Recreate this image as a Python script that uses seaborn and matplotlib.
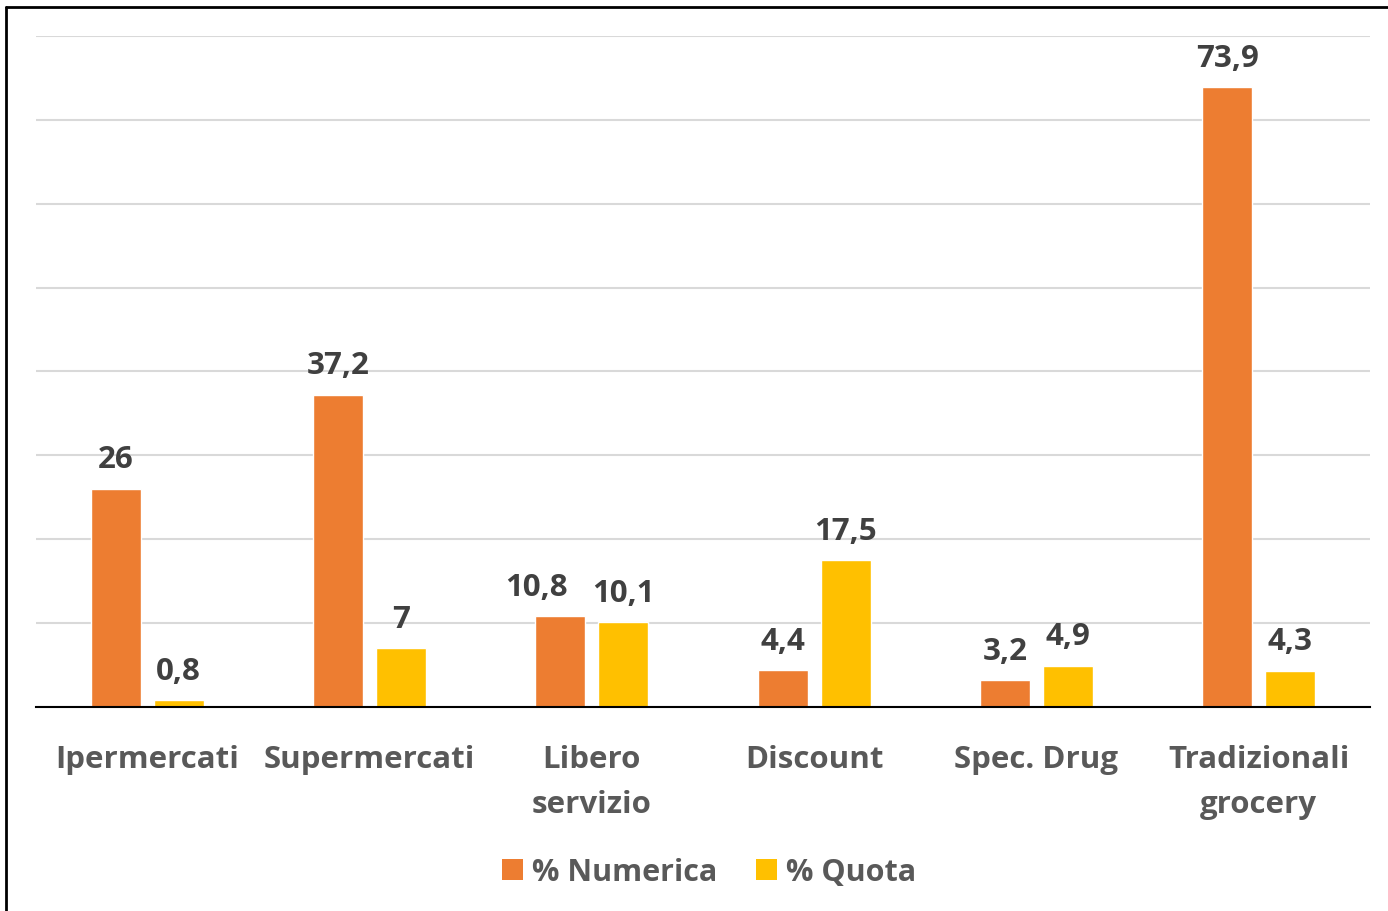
import matplotlib
matplotlib.use("Agg")
import matplotlib.pyplot as plt
import seaborn as sns
import pandas as pd
from matplotlib.lines import Line2D
from matplotlib.patches import Patch

categories = ["Ipermercati", "Supermercati", "Libero\nservizio", "Discount", "Spec. Drug", "Tradizionali\ngrocery"]
series_names = ["% Numerica", "% Quota"]
numerica = [26, 37.2, 10.8, 4.4, 3.2, 73.9]
quota = [0.8, 7, 10.1, 17.5, 4.9, 4.3]
colors = ["#ED7D31", "#FFC000"]

df = pd.DataFrame({
    "cat": categories * 2,
    "serie": [series_names[0]] * len(categories) + [series_names[1]] * len(categories),
    "val": numerica + quota,
})

sns.set_theme(style="white")
plt.rcParams["font.family"] = ["Open Sans", "DejaVu Sans"]

fig = plt.figure(figsize=(13.88, 9.12), dpi=100)
W, H = 1388, 912
ax = fig.add_axes([36 / W, 1 - 708 / H, (1370 - 36) / W, (708 - 37) / H])

sns.barplot(data=df, x="cat", y="val", hue="serie", palette=colors, order=categories,
            hue_order=series_names, width=0.567, gap=0.206, ax=ax, legend=False,
            saturation=1, errorbar=None)

ax.set_ylim(0, 80)
ax.set_xlim(-0.5, len(categories) - 0.5)
ax.set_yticks(range(0, 81, 10))
ax.yaxis.grid(True, color="#d9d9d9", linewidth=1.5)
ax.set_axisbelow(True)
ax.tick_params(axis="y", left=False, labelleft=False)
ax.tick_params(axis="x", bottom=False, pad=20.5, labelsize=22.5, labelcolor="#595959")
for lab in ax.get_xticklabels():
    lab.set_fontweight("bold")
    lab.set_linespacing(1.64)
ax.set_xlabel("")
ax.set_ylabel("")
for s in ["top", "right", "left"]:
    ax.spines[s].set_visible(False)
ax.spines["bottom"].set_color("#000000")
ax.spines["bottom"].set_linewidth(1.5)

def fmt(v):
    s = f"{v:g}"
    return s.replace(".", ",")

# Excel nudges one label sideways to avoid overlapping its neighbour
label_shift = {(0, 2): -24}

for si, container in enumerate(ax.containers):
    texts = ax.bar_label(container, labels=[fmt(b.get_height()) for b in container], padding=10.5,
                         fontsize=22.5, fontweight="bold", color="#404040")
    for ci, t in enumerate(texts):
        dx = label_shift.get((si, ci), 0)
        if dx:
            x0, y0 = t.xyann
            t.xyann = (x0 + dx * 72 / 100, y0)

handles = [Patch(facecolor=c, edgecolor="none") for c in colors]
fig.legend(handles, series_names, loc="center", bbox_to_anchor=(709 / W, 1 - 873 / H),
           ncol=2, frameon=False, prop={"size": 22, "weight": "bold"},
           handlelength=0.69, handleheight=0.69, handletextpad=0.3, columnspacing=1.25,
           labelcolor="#595959")

fig.add_artist(Line2D([6 / W, 6 / W], [0, 1 - 8 / H], color="black", linewidth=2, transform=fig.transFigure))
fig.add_artist(Line2D([6 / W, 1], [1 - 8 / H, 1 - 8 / H], color="black", linewidth=2, transform=fig.transFigure))

fig.savefig("out.png", dpi=100)
